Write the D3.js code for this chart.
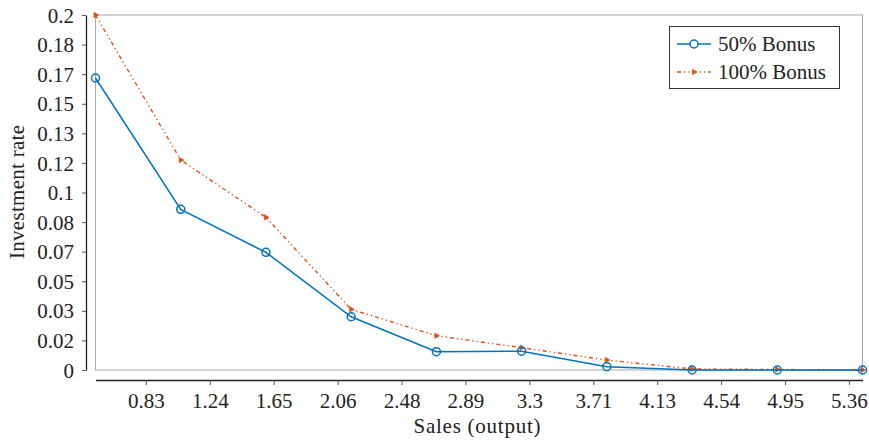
<!DOCTYPE html>
<html>
<head>
<meta charset="utf-8">
<script src="https://cdn.jsdelivr.net/npm/d3@7"></script>
<style>
  html, body { margin: 0; padding: 0; background: #fff; }
  svg text { font-family: "Liberation Serif", "DejaVu Serif", serif; fill: #222; }
</style>
</head>
<body>
<svg id="chart" width="869" height="440"></svg>
<script>
// ---- data ----
const sales = [0.5, 1.05, 1.6, 2.15, 2.7, 3.25, 3.8, 4.35, 4.9, 5.45];
const bonus50 = [0.1645, 0.0905, 0.0663, 0.0300, 0.0103, 0.0106, 0.0019, 0.0, 0.0, 0.0];
const bonus100 = [0.2, 0.1183, 0.0860, 0.0342, 0.0193, 0.0126, 0.0056, 0.0006, 0.0003, 0.0];
const seriesNames = ["50% Bonus", "100% Bonus"];
const xTickValues = [0.825, 1.2375, 1.65, 2.0625, 2.475, 2.8875, 3.3, 3.7125, 4.125, 4.5375, 4.95, 5.3625];
const xTickLabels = ["0.83", "1.24", "1.65", "2.06", "2.48", "2.89", "3.3", "3.71", "4.13", "4.54", "4.95", "5.36"];
const yTickValues = [0, 0.2/12, 0.4/12, 0.6/12, 0.8/12, 1.0/12, 1.2/12, 1.4/12, 1.6/12, 1.8/12, 2.0/12, 2.2/12, 0.2];
const yTickLabels = ["0", "0.02", "0.03", "0.05", "0.07", "0.08", "0.1", "0.12", "0.13", "0.15", "0.17", "0.18", "0.2"];
const colors = ["#0072BD", "#D95319"];

const svg = d3.select("#chart");
const pL = 95.5, pR = 862.5, pT = 15, pB = 370;
const x = d3.scaleLinear().domain([0.5, 5.45]).range([pL, pR]);
const y = d3.scaleLinear().domain([0, 0.2]).range([pB, pT]);
const fs = 21;

// plot box (gray)
svg.append("rect")
  .attr("x", pL).attr("y", pT)
  .attr("width", pR - pL).attr("height", pB - pT)
  .attr("fill", "none").attr("stroke", "#a8a8a8").attr("stroke-width", 1);

// y axis (offset)
const yAxis = svg.append("g").attr("transform", "translate(86,0)")
  .call(d3.axisLeft(y).tickValues(yTickValues)
    .tickFormat((d, i) => yTickLabels[i]).tickSize(4).tickSizeOuter(0).tickPadding(8));
yAxis.attr("font-size", fs).attr("font-family", "Liberation Serif");
yAxis.select(".domain").attr("stroke", "#222").attr("stroke-width", 1.3);
yAxis.selectAll(".tick line").attr("stroke", "#555");
yAxis.selectAll("text").attr("font-size", fs).attr("fill", "#222").attr("dy", "0.34em");

// x axis (offset)
const xAxis = svg.append("g").attr("transform", "translate(0,380)")
  .call(d3.axisBottom(x).tickValues(xTickValues)
    .tickFormat((d, i) => xTickLabels[i]).tickSize(5).tickSizeOuter(0).tickPadding(8));
xAxis.attr("font-size", fs).attr("font-family", "Liberation Serif");
xAxis.select(".domain").attr("stroke", "#222").attr("stroke-width", 1.3);
xAxis.selectAll(".tick line").attr("stroke", "#555");
xAxis.selectAll("text").attr("font-size", fs).attr("fill", "#222");

// axis titles
svg.append("text").attr("x", (pL + pR) / 2 - 2).attr("y", 433)
  .attr("text-anchor", "middle").attr("font-size", 21).attr("textLength", 127)
  .attr("lengthAdjust", "spacing").text("Sales (output)");
svg.append("text").attr("transform", "translate(24,192) rotate(-90)")
  .attr("text-anchor", "middle").attr("font-size", 21).attr("textLength", 134)
  .attr("lengthAdjust", "spacing").text("Investment rate");

const line = d3.line().x((d, i) => x(sales[i])).y(d => y(d));

// 100% bonus (orange dash-dot-dot)
svg.append("path").datum(bonus100)
  .attr("d", line).attr("fill", "none").attr("stroke", colors[1])
  .attr("stroke-width", 1.4).attr("stroke-dasharray", "4 3 1.3 3 1.3 3");
const tri = d3.symbol().type(d3.symbolTriangle).size(12);
svg.selectAll(".m100").data(bonus100).enter().append("path")
  .attr("d", tri)
  .attr("transform", (d, i) => `translate(${x(sales[i])},${y(d)}) rotate(90)`)
  .attr("fill", colors[1]).attr("stroke", colors[1]).attr("stroke-width", 0.8);

// 50% bonus (blue solid with circles)
svg.append("path").datum(bonus50)
  .attr("d", line).attr("fill", "none").attr("stroke", colors[0]).attr("stroke-width", 1.5);
svg.selectAll(".m50").data(bonus50).enter().append("circle")
  .attr("cx", (d, i) => x(sales[i])).attr("cy", d => y(d)).attr("r", 4)
  .attr("fill", "none").attr("stroke", colors[0]).attr("stroke-width", 1.5);

// legend
const lg = svg.append("g");
lg.append("rect").attr("x", 669.5).attr("y", 26.5).attr("width", 170).attr("height", 62)
  .attr("fill", "#fff").attr("stroke", "#333").attr("stroke-width", 1);
const rows = [44, 72];
lg.append("line").attr("x1", 677).attr("x2", 711).attr("y1", rows[0]).attr("y2", rows[0])
  .attr("stroke", colors[0]).attr("stroke-width", 1.5);
lg.append("circle").attr("cx", 694).attr("cy", rows[0]).attr("r", 4)
  .attr("fill", "#fff").attr("stroke", colors[0]).attr("stroke-width", 1.5);
lg.append("line").attr("x1", 677).attr("x2", 711).attr("y1", rows[1]).attr("y2", rows[1])
  .attr("stroke", colors[1]).attr("stroke-width", 1.4).attr("stroke-dasharray", "4 3 1.3 3 1.3 3");
lg.append("path").attr("d", tri).attr("transform", `translate(694,${rows[1]}) rotate(90)`)
  .attr("fill", colors[1]).attr("stroke", colors[1]).attr("stroke-width", 0.8);
seriesNames.forEach((n, i) => {
  lg.append("text").attr("x", 718).attr("y", rows[i]).attr("dy", "0.34em")
    .attr("font-size", fs).text(n);
});
</script>
</body>
</html>
